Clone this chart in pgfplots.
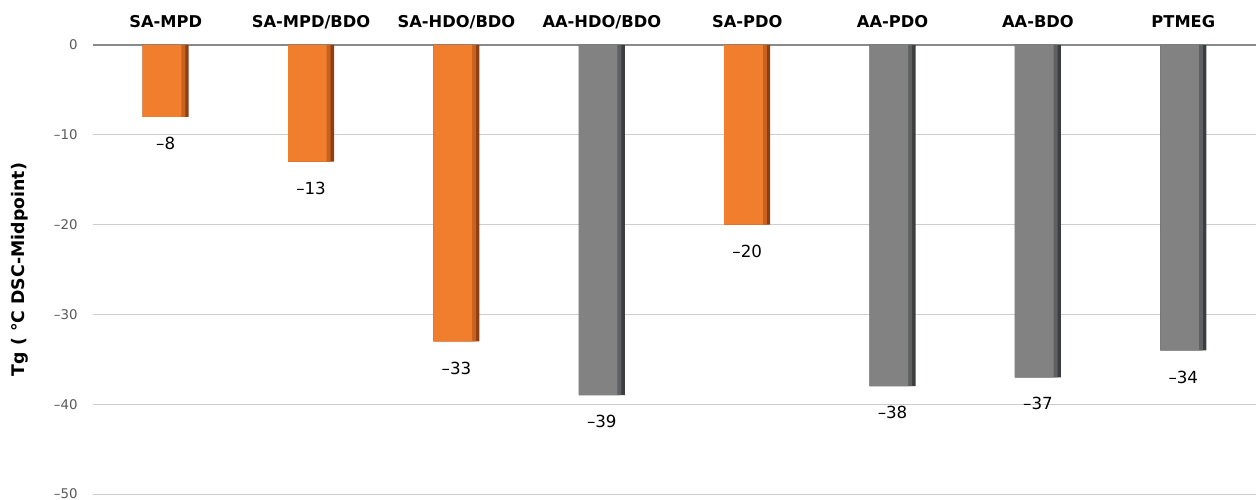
\documentclass[border=0pt]{standalone}
\usepackage{fontspec}
\setmainfont{DejaVu Sans}
\usepackage{pgfplots}
\pgfplotsset{compat=1.18}

\definecolor{obase}{HTML}{F07E2C}
\definecolor{omid}{HTML}{C8621F}
\definecolor{oright}{HTML}{8E3E14}
\definecolor{gbase}{HTML}{828282}
\definecolor{gmid}{HTML}{5E6161}
\definecolor{gright}{HTML}{3A3E3E}
\definecolor{ticktext}{HTML}{595959}
\definecolor{gridc}{HTML}{CDCDCD}
\definecolor{zeroc}{HTML}{8A8A8A}

\pgfplotstableread{
x  y
0  -8
1  -13
2  -33
4  -20
}\orangedata
\pgfplotstableread{
x  y
3  -39
5  -38
6  -37
7  -34
}\graydata

\begin{document}
\begin{tikzpicture}
\begin{axis}[
  scale only axis,
  width=872.25pt, height=336.75pt,
  xmin=-0.5, xmax=7.5, ymin=-50, ymax=0,
  axis line style={draw=none},
  major tick length=0pt,
  ymajorgrids,
  grid style={draw=gridc, line width=0.75pt},
  ytick={-50,-40,-30,-20,-10,0},
  yticklabels={–50,–40,–30,–20,–10,0},
  yticklabel style={font=\fontsize{10}{12}\selectfont, text=ticktext, anchor=east, xshift=-8pt},
  xtick={0,...,7},
  xticklabels={SA-MPD,SA-MPD/BDO,SA-HDO/BDO,AA-HDO/BDO,SA-PDO,AA-PDO,AA-BDO,PTMEG},
  xticklabel pos=upper,
  xticklabel style={font=\bfseries\fontsize{12.2}{14}\selectfont, anchor=base, yshift=12.75pt},
  ylabel={Tg ( °C DSC-Midpoint)},
  every axis y label/.style={at={(axis description cs:-0.06277,0.5)}, rotate=90, anchor=center,
    font=\bfseries\fontsize{13}{15}\selectfont},
  ybar,
  /pgf/number format/assume math mode=true,
  every node near coord/.append style={anchor=north, yshift=-11.7pt, font=\fontsize{12.5}{14}\selectfont, text=black},
  clip=false,
]
\draw[zeroc, line width=1.2pt] (axis cs:-0.5,0) -- (axis cs:7.5,0);
% orange bars: dark right edge under a lighter body
\addplot[fill=oright, draw=none, bar width=34.5pt, bar shift=0pt] table[x=x, y=y] {\orangedata};
\addplot[fill=omid, draw=none, bar width=32pt, bar shift=-1.25pt] table[x=x, y=y] {\orangedata};
\addplot[fill=obase, draw=none, bar width=29pt, bar shift=-2.75pt,
  nodes near coords={\textendash\pgfmathprintnumber{\pgfplotspointmeta}},
  nodes near coords style={xshift=2.75pt},
  point meta={-\thisrow{y}}] table[x=x, y=y] {\orangedata};
% gray bars
\addplot[fill=gright, draw=none, bar width=34.5pt, bar shift=0pt] table[x=x, y=y] {\graydata};
\addplot[fill=gmid, draw=none, bar width=32pt, bar shift=-1.25pt] table[x=x, y=y] {\graydata};
\addplot[fill=gbase, draw=none, bar width=29pt, bar shift=-2.75pt,
  nodes near coords={\textendash\pgfmathprintnumber{\pgfplotspointmeta}},
  nodes near coords style={xshift=2.75pt},
  point meta={-\thisrow{y}}] table[x=x, y=y] {\graydata};
\end{axis}
\pgfresetboundingbox
\path[use as bounding box] ([xshift=-69.75pt,yshift=-3.75pt]current axis.south west)
  rectangle ([yshift=33.75pt]current axis.north east);
\end{tikzpicture}
\end{document}
